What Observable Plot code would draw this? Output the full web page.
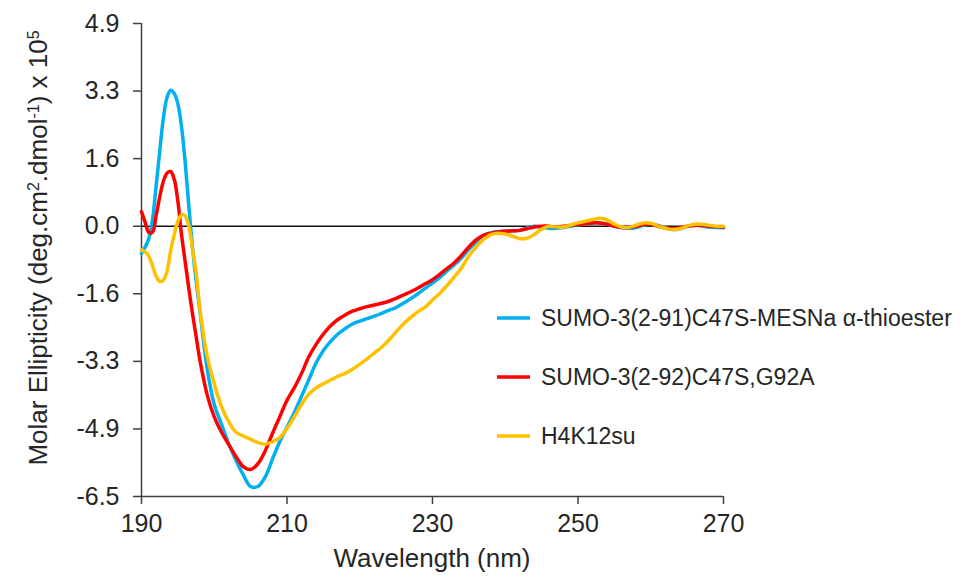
<!DOCTYPE html>
<html>
<head>
<meta charset="utf-8">
<script src="https://cdn.jsdelivr.net/npm/d3@7"></script>
<script src="https://cdn.jsdelivr.net/npm/@observablehq/plot@0.6"></script>
<style>
  html, body { margin: 0; padding: 0; background: #fff; }
  #chart { width: 968px; height: 581px; overflow: hidden; }
</style>
</head>
<body>
<div id="chart"></div>
<script>
// Wavelength (nm)
const wavelengths = [
  190, 190.5, 191, 191.5, 192, 192.5, 193, 193.5, 194, 194.5, 195, 195.5, 196, 196.5, 197, 197.5, 198,
  199, 200, 201, 202, 203, 204, 205, 206, 207, 208, 209, 210,
  211, 212, 213, 214, 215, 216, 217, 218, 219, 220,
  221, 222, 223, 224, 225, 226, 227, 228, 229, 230,
  231, 232, 233, 234, 235, 236, 237, 238, 239, 240,
  241, 242, 243, 244, 245, 246, 247, 248, 249, 250,
  251, 252, 253, 254, 255, 256, 257, 258, 259, 260,
  261, 262, 263, 264, 265, 266, 267, 268, 269, 270
];

// Molar ellipticity (x 10^5)
const sumoThioester = [
  -0.66, -0.5, -0.3, 0.15, 0.95, 1.8, 2.6, 3.1, 3.28, 3.2, 2.95, 2.4, 1.55, 0.5, -0.5, -1.3, -2.0,
  -3.4, -4.3, -4.78, -5.25, -5.65, -6.0, -6.28, -6.28, -6.05, -5.62, -5.2, -4.85,
  -4.5, -4.1, -3.7, -3.3, -3.0, -2.78, -2.6, -2.47, -2.36, -2.29,
  -2.23, -2.17, -2.1, -2.03, -1.96, -1.86, -1.75, -1.63, -1.5, -1.37,
  -1.24, -1.08, -0.93, -0.76, -0.56, -0.38, -0.22, -0.16, -0.13, -0.12,
  -0.11, -0.1, -0.04, 0.0, -0.02, -0.05, -0.05, -0.03, 0.0, 0.03,
  0.05, 0.08, 0.08, 0.05, 0.0, -0.03, -0.05, -0.03, 0.02, 0.05,
  0.02, -0.04, -0.08, -0.06, -0.01, 0.02, 0.01, -0.02, -0.03, -0.04
];

const sumoG92A = [
  0.35, 0.1, -0.15, -0.15, 0.25, 0.7, 1.08, 1.28, 1.32, 1.13, 0.6, -0.2, -0.85, -1.5, -2.1, -2.65, -3.2,
  -4.05, -4.6, -4.97, -5.27, -5.56, -5.8, -5.87, -5.73, -5.42, -5.0, -4.6, -4.2,
  -3.9, -3.55, -3.15, -2.85, -2.6, -2.4, -2.25, -2.14, -2.05, -1.99,
  -1.94, -1.9, -1.86, -1.81, -1.74, -1.66, -1.58, -1.49, -1.39, -1.29,
  -1.16, -1.02, -0.88, -0.7, -0.5, -0.33, -0.22, -0.17, -0.14, -0.12,
  -0.11, -0.1, -0.06, -0.02, 0.0, 0.0, -0.02, 0.0, 0.02, 0.04,
  0.06, 0.08, 0.08, 0.05, 0.0, -0.03, -0.03, 0.0, 0.04, 0.04,
  0.0, -0.04, -0.06, -0.04, 0.0, 0.02, 0.02, 0.0, -0.01, -0.02
];

const h4k12su = [
  -0.57, -0.62, -0.72, -0.95, -1.2, -1.33, -1.3, -1.1, -0.6, -0.2, 0.12, 0.28, 0.25, 0.0, -0.55, -1.1, -1.95,
  -3.1, -3.8, -4.35, -4.72, -4.97, -5.06, -5.14, -5.22, -5.26, -5.2, -5.1, -4.88,
  -4.6, -4.3, -4.05, -3.9, -3.8, -3.71, -3.62, -3.55, -3.45, -3.33,
  -3.2, -3.06, -2.92, -2.75, -2.55, -2.36, -2.2, -2.06, -1.95, -1.78,
  -1.62, -1.43, -1.22, -1.0, -0.72, -0.5, -0.32, -0.2, -0.17, -0.19,
  -0.24, -0.3, -0.29, -0.2, -0.07, 0.0, -0.02, -0.02, 0.03, 0.08,
  0.12, 0.16, 0.19, 0.15, 0.05, -0.02, -0.03, 0.03, 0.08, 0.07,
  0.0, -0.05, -0.08, -0.06, 0.0, 0.05, 0.05, 0.02, 0.0, 0.0
];

const seriesNames = ["SUMO-3(2-91)C47S-MESNa \u03b1-thioester", "SUMO-3(2-92)C47S,G92A", "H4K12su"];
const seriesColors = ["#00B0F0", "#FF0000", "#FFC000"];
const seriesValues = [sumoThioester, sumoG92A, h4k12su];

const xTicks = [190, 210, 230, 250, 270];
const yTicks = [-6.52, -4.89, -3.26, -1.63, 0, 1.63, 3.26, 4.89];
const xDomain = [190, 270];
const yDomain = [-6.52, 4.89];

const tables = seriesValues.map(vals => wavelengths.map((w, i) => ({w, v: vals[i]})));

const chart = Plot.plot({
  width: 968,
  height: 581,
  marginLeft: 141,
  marginRight: 245,
  marginTop: 23,
  marginBottom: 85,
  style: {fontFamily: "'Liberation Sans', Arial, sans-serif", fontSize: "25px", color: "#262626", background: "#fff"},
  x: {domain: xDomain},
  y: {domain: yDomain},
  marks: [
    Plot.axisX({ticks: xTicks, tickSize: 8, tickPadding: 10, tickFormat: d => String(d), label: null, fontSize: 25, stroke: "#404040", strokeWidth: 1.5}),
    Plot.axisY({ticks: yTicks, tickSize: 8, tickPadding: 14, tickFormat: d => d.toFixed(1), label: null, fontSize: 25, stroke: "#404040", strokeWidth: 1.5}),
    Plot.ruleX([xDomain[0]], {stroke: "#404040", strokeWidth: 1.5}),
    Plot.ruleY([yDomain[0]], {stroke: "#404040", strokeWidth: 1.5}),
    Plot.ruleY([0], {stroke: "#111", strokeWidth: 1.5}),
    ...tables.map((t, i) => Plot.line(t, {x: "w", y: "v", stroke: seriesColors[i], strokeWidth: 3.5, curve: "catmull-rom"}))
  ]
});

document.getElementById("chart").appendChild(chart);

const svg = d3.select(chart);
const fam = "'Liberation Sans', Arial, sans-serif";

// Y axis title with superscripts
const yl = svg.append("text")
  .attr("transform", "translate(47,248) rotate(-90)")
  .attr("text-anchor", "middle")
  .attr("font-family", fam)
  .attr("font-size", 26)
  .attr("fill", "#262626");
const ylParts = [["Molar Ellipticity (deg.cm", false], ["2", true], [".dmol", false], ["-1", true], [") x 10", false], ["5", true]];
ylParts.forEach(([t, sup]) => {
  yl.append("tspan")
    .attr("baseline-shift", sup ? "super" : null)
    .attr("font-size", sup ? 16 : null)
    .text(t);
});

// X axis title
svg.append("text")
  .attr("x", 432)
  .attr("y", 567)
  .attr("text-anchor", "middle")
  .attr("font-family", fam)
  .attr("font-size", 26)
  .attr("fill", "#262626")
  .text("Wavelength (nm)");

// Legend
const legendY = [318, 377, 436];
seriesNames.forEach((name, i) => {
  const g = svg.append("g");
  g.append("line")
    .attr("x1", 497).attr("x2", 530)
    .attr("y1", legendY[i]).attr("y2", legendY[i])
    .attr("stroke", seriesColors[i]).attr("stroke-width", 3.5);
  g.append("text")
    .attr("x", 541).attr("y", legendY[i])
    .attr("dy", "0.36em")
    .attr("text-anchor", "start")
    .attr("font-family", fam)
    .attr("font-size", 23)
    .attr("fill", "#262626")
    .text(name);
});
</script>
</body>
</html>
